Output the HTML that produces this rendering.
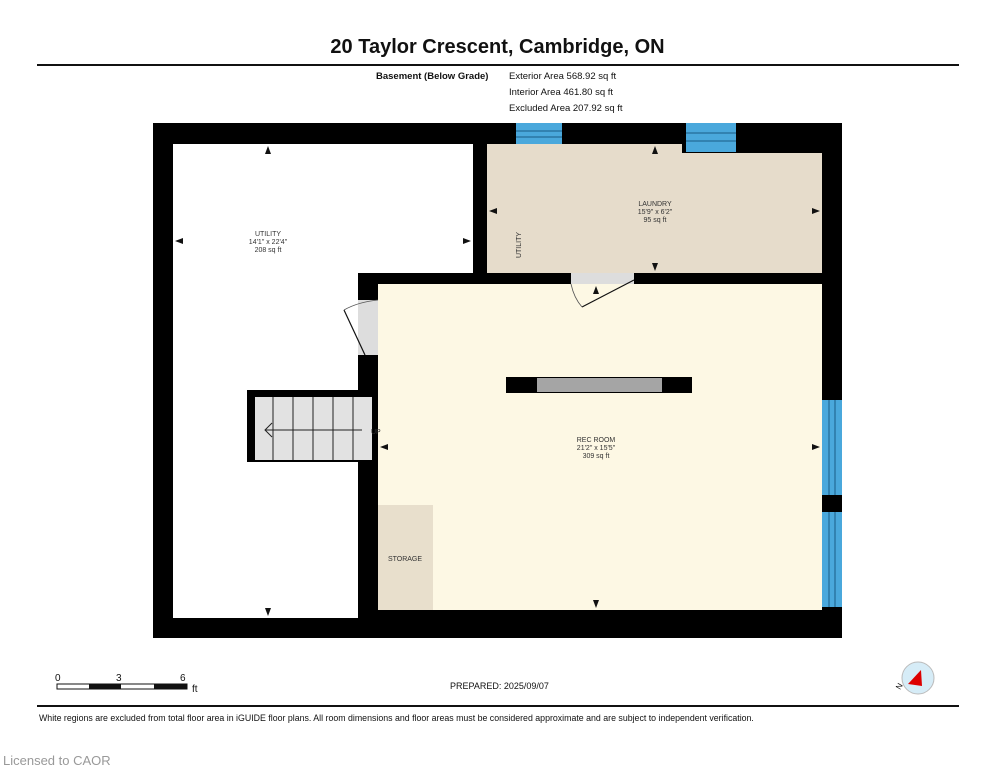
<!DOCTYPE html>
<html><head><meta charset="utf-8"><style>
body{margin:0;width:995px;height:768px;background:#fff;position:relative;font-family:"Liberation Sans",sans-serif;overflow:hidden}
.t{position:absolute;white-space:nowrap;color:#111}
</style></head><body>
<div class="t" style="left:0;width:995px;text-align:center;top:36px;font-size:20px;font-weight:bold">20 Taylor Crescent, Cambridge, ON</div>
<div style="position:absolute;left:37px;top:64px;width:922px;height:2px;background:#111"></div>
<div class="t" style="left:376px;top:71px;font-size:9.5px;font-weight:bold">Basement (Below Grade)</div>
<div class="t" style="left:509px;top:71px;font-size:9.5px">Exterior Area 568.92 sq ft</div>
<div class="t" style="left:509px;top:87px;font-size:9.5px">Interior Area 461.80 sq ft</div>
<div class="t" style="left:509px;top:103px;font-size:9.5px">Excluded Area 207.92 sq ft</div>
<svg style="position:absolute;left:0;top:0" width="995" height="768" font-family="Liberation Sans, sans-serif">
<rect x="153" y="123" width="689" height="515" fill="#000"/>
<path d="M173 144H473V273H358V618H173Z" fill="#fff"/>
<path d="M487 144H682V153H822V273H487Z" fill="#e6dccb"/>
<rect x="378" y="284" width="444" height="326" fill="#fdf8e4"/>
<rect x="378" y="505" width="55" height="105" fill="#e8dfcc"/>
<rect x="247" y="390" width="131" height="72" fill="#000"/>
<rect x="255" y="397" width="117" height="63" fill="#e2e2e2"/>
<g stroke="#222" stroke-width="1">
<line x1="273" y1="397" x2="273" y2="460"/><line x1="293" y1="397" x2="293" y2="460"/><line x1="313" y1="397" x2="313" y2="460"/><line x1="333" y1="397" x2="333" y2="460"/><line x1="353" y1="397" x2="353" y2="460"/>
<line x1="265" y1="430" x2="362" y2="430"/><polyline points="272,423 265,430 272,437" fill="none"/>
</g>
<text x="371" y="434" font-size="7" fill="#333">UP</text>
<rect x="358" y="300" width="20" height="55" fill="#ddd"/>
<line x1="344" y1="310" x2="365" y2="355" stroke="#111" stroke-width="1.2"/>
<path d="M344 310 Q358 302 378 300" fill="none" stroke="#555" stroke-width="0.8"/>
<rect x="571" y="273" width="63" height="11" fill="#ddd"/>
<line x1="634" y1="280" x2="582" y2="307" stroke="#111" stroke-width="1.2"/>
<path d="M571 284 Q574 298 582 307" fill="none" stroke="#555" stroke-width="0.8"/>
<rect x="516" y="123" width="46" height="21" fill="#4aa8dc"/>
<line x1="516" y1="131" x2="562" y2="131" stroke="#1b5d86"/><line x1="516" y1="137" x2="562" y2="137" stroke="#1b5d86"/>
<rect x="686" y="123" width="50" height="29" fill="#4aa8dc"/>
<line x1="686" y1="133" x2="736" y2="133" stroke="#1b5d86"/><line x1="686" y1="141" x2="736" y2="141" stroke="#1b5d86"/>
<rect x="822" y="400" width="20" height="95" fill="#4aa8dc"/>
<rect x="822" y="512" width="20" height="95" fill="#4aa8dc"/>
<g stroke="#1b5d86"><line x1="829" y1="400" x2="829" y2="495"/><line x1="835" y1="400" x2="835" y2="495"/><line x1="829" y1="512" x2="829" y2="607"/><line x1="835" y1="512" x2="835" y2="607"/></g>
<rect x="506" y="377" width="186" height="16" fill="#000"/>
<rect x="537" y="378" width="125" height="14" fill="#a5a5a5"/>
<g fill="#111">
<path d="M268 146l-3 8h6z"/><path d="M268 616l-3-8h6z"/><path d="M175 241l8-3v6z"/><path d="M471 241l-8-3v6z"/>
<path d="M655 146l-3 8h6z"/><path d="M655 271l-3-8h6z"/><path d="M489 211l8-3v6z"/><path d="M820 211l-8-3v6z"/>
<path d="M596 286l-3 8h6z"/><path d="M596 608l-3-8h6z"/><path d="M380 447l8-3v6z"/><path d="M820 447l-8-3v6z"/>
</g>
<g font-size="7" fill="#333" text-anchor="middle">
<text x="268" y="236">UTILITY</text><text x="268" y="244">14'1" x 22'4"</text><text x="268" y="252">208 sq ft</text>
<text x="655" y="206">LAUNDRY</text><text x="655" y="214">15'9" x 6'2"</text><text x="655" y="222">95 sq ft</text>
<text x="596" y="442">REC ROOM</text><text x="596" y="450">21'2" x 15'5"</text><text x="596" y="458">309 sq ft</text>
<text x="405" y="561">STORAGE</text>
<text transform="translate(521,245) rotate(-90)">UTILITY</text>
</g>
<g font-size="10" fill="#111">
<text x="55" y="681">0</text><text x="116" y="681">3</text><text x="180" y="681">6</text><text x="192" y="692">ft</text>
</g>
<rect x="57" y="684" width="130" height="5" fill="#fff" stroke="#111" stroke-width="1"/>
<rect x="89" y="684" width="32" height="5" fill="#111"/><rect x="154" y="684" width="33" height="5" fill="#111"/>
<text x="450" y="689" font-size="9" fill="#111">PREPARED: 2025/09/07</text>
<circle cx="918" cy="678" r="16" fill="#d6ecf7" stroke="#bbb"/>
<path d="M908 684L921 670L922 686Z" fill="#d00"/>
<text x="896" y="689" font-size="8" fill="#111" transform="rotate(-60 899 686)">N</text>
<rect x="37" y="705" width="922" height="2" fill="#111"/>
<text x="39" y="721" font-size="8.8" fill="#111">White regions are excluded from total floor area in iGUIDE floor plans. All room dimensions and floor areas must be considered approximate and are subject to independent verification.</text>
<text x="3" y="765" font-size="13" fill="#999">Licensed to CAOR</text>
</svg>
</body></html>
